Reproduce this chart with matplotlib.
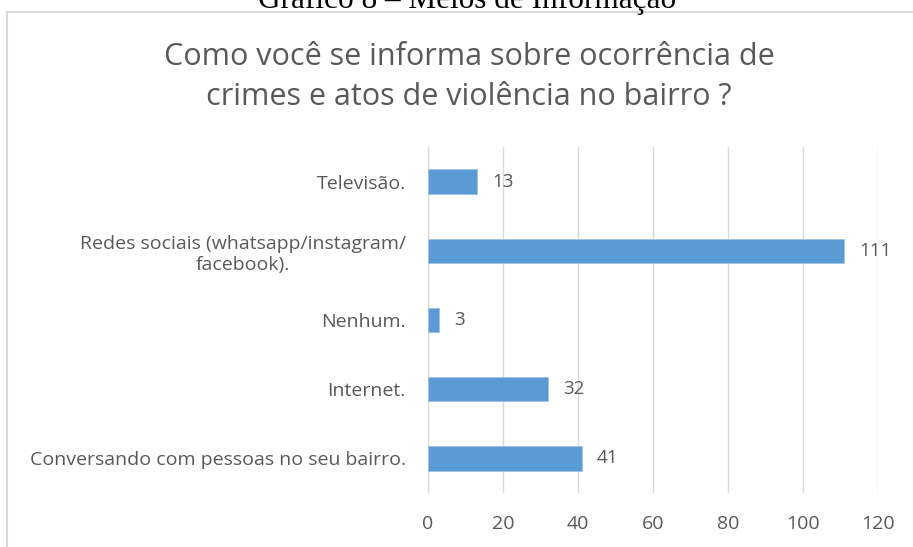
import matplotlib.pyplot as plt
from matplotlib.patches import Rectangle

categories = ["Conversando com pessoas no seu bairro.", "Internet.", "Nenhum.",
              "Redes sociais (whatsapp/instagram/\nfacebook).", "Televisão."]
values = [41, 32, 3, 111, 13]
xticks = [0, 20, 40, 60, 80, 100, 120]

bar_color = "#5B9BD5"
text_color = "#595959"
grid_color = "#D9D9D9"

plt.rcParams["font.family"] = ["Open Sans", "DejaVu Sans"]

fig = plt.figure(figsize=(9.13, 5.47), dpi=100)
ax = fig.add_axes([428 / 913, 1 - 493 / 547, 450 / 913, 346 / 547])

# outer chart border (cut off at right and bottom)
fig.patches.append(Rectangle((7 / 913, -0.1), 1.2, 1.1 - 12 / 547, transform=fig.transFigure,
                             fill=False, edgecolor=grid_color, linewidth=1.5))

# cut caption at the top
fig.text(467 / 913, 1 - 8 / 547, "Gráfico 8 – Meios de Informação", ha="center", va="baseline",
         fontsize=22.5, family="Liberation Serif", color="black")

pos = range(len(categories))
bars = ax.barh(pos, values, height=0.35, color=bar_color, edgecolor="#9DC3E6", linewidth=0.6, zorder=3)
for b, v in zip(bars, values):
    ax.annotate(str(v), (b.get_width(), b.get_y() + b.get_height() / 2), xytext=(11, 0),
                textcoords="offset points", va="center", ha="left", fontsize=13.5, color=text_color)

ax.set_xlim(0, 120)
ax.set_ylim(-0.5, len(categories) - 0.5)
ax.set_xticks(xticks)
ax.set_yticks(list(pos))
ax.set_yticklabels(categories, multialignment="center")
ax.grid(axis="x", color=grid_color, linewidth=1, zorder=0)
for s in ax.spines.values():
    s.set_visible(False)
ax.axvline(0, color=grid_color, linewidth=1, zorder=1)
ax.tick_params(axis="both", length=0, labelsize=14, labelcolor=text_color)
ax.tick_params(axis="x", pad=16)
ax.tick_params(axis="y", pad=16)

fig.text(469 / 913, 1 - 77 / 547, "Como você se informa sobre ocorrência de\ncrimes e atos de violência no bairro ?",
         ha="center", va="center", fontsize=22, color=text_color, linespacing=1.45)

fig.savefig("out.png", dpi=100)
